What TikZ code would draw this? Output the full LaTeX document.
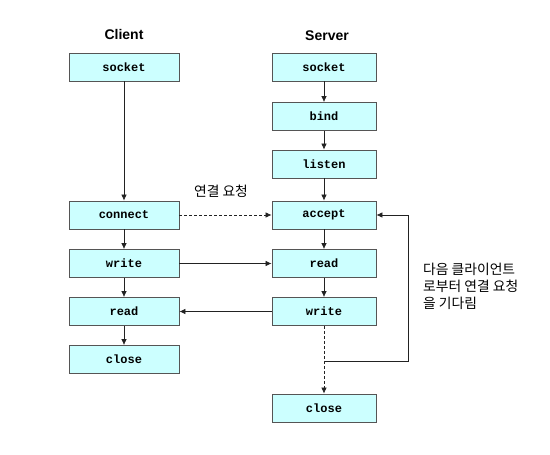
\documentclass[tikz,border=0pt]{standalone}
\usepackage{fontspec}
\setmainfont{Liberation Sans}
\setmonofont{Liberation Mono}
\newfontfamily\krfont{Noto Sans CJK KR}
\usetikzlibrary{arrows.meta}
\definecolor{boxfill}{HTML}{CCFFFF}
\definecolor{boxline}{HTML}{555555}
\definecolor{conline}{HTML}{222222}
\begin{document}
\begin{tikzpicture}[x=1pt,y=-1pt,
  cbox/.style={draw=boxline,fill=boxfill,line width=0.8pt,minimum width=110pt,minimum height=28pt,inner sep=0pt,font=\fontsize{12}{14}\selectfont\ttfamily\bfseries},
  sbox/.style={cbox,minimum width=104pt},
  title/.style={font=\fontsize{14}{16}\selectfont\bfseries},
  kr/.style={font=\fontsize{13.8}{16.8}\selectfont\krfont},
  conn/.style={draw=conline,line width=0.7pt,-{Latex[length=6pt,width=5.5pt]}},
  dconn/.style={conn,dashed,dash pattern=on 3pt off 2pt}]
\useasboundingbox (0,0) rectangle (550,455);
\node[title] (tc) at (124,34) {Client};
\node[title] (ts) at (327,36) {Server};
% client
\node[cbox] (csock) at (124,67) {socket};
\node[cbox] (cconn) at (124,215) {connect};
\node[cbox] (cwrite) at (124,263.5) {write};
\node[cbox] (cread) at (124,311.5) {read};
\node[cbox] (cclose) at (124,359.5) {close};
% server
\node[sbox] (ssock) at (324,67) {socket};
\node[sbox] (sbind) at (324,116.5) {bind};
\node[sbox] (slisten) at (324,164) {listen};
\node[sbox] (saccept) at (324,215) {accept};
\node[sbox] (sread) at (324,263.5) {read};
\node[sbox] (swrite) at (324,311.5) {write};
\node[sbox] (sclose) at (324,408) {close};
% labels
\node[kr] (lreq) at (221,191) {연결 요청};
\node[kr,align=left,anchor=north west,inner sep=0pt] (lwait) at (423,263) {다음 클라이언트\\로부터 연결 요청\\을 기다림};
% client arrows
\draw[conn] (csock) -- (cconn);
\draw[conn] (cconn) -- (cwrite);
\draw[conn] (cwrite) -- (cread);
\draw[conn] (cread) -- (cclose);
% server arrows
\draw[conn] (ssock) -- (sbind);
\draw[conn] (sbind) -- (slisten);
\draw[conn] (slisten) -- (saccept);
\draw[conn] (saccept) -- (sread);
\draw[conn] (sread) -- (swrite);
\draw[dconn] (swrite) -- (sclose);
% cross arrows
\draw[dconn] (cconn) -- (saccept);
\draw[conn] (cwrite) -- (sread);
\draw[conn] (swrite) -- (cread);
% loop
\coordinate (lp1) at (324,361);
\coordinate (lp2) at (408,361);
\coordinate (lp3) at (408,215);
\draw[conn] (lp1) -- (lp2) -- (lp3) -- (saccept.east);
\end{tikzpicture}
\end{document}
